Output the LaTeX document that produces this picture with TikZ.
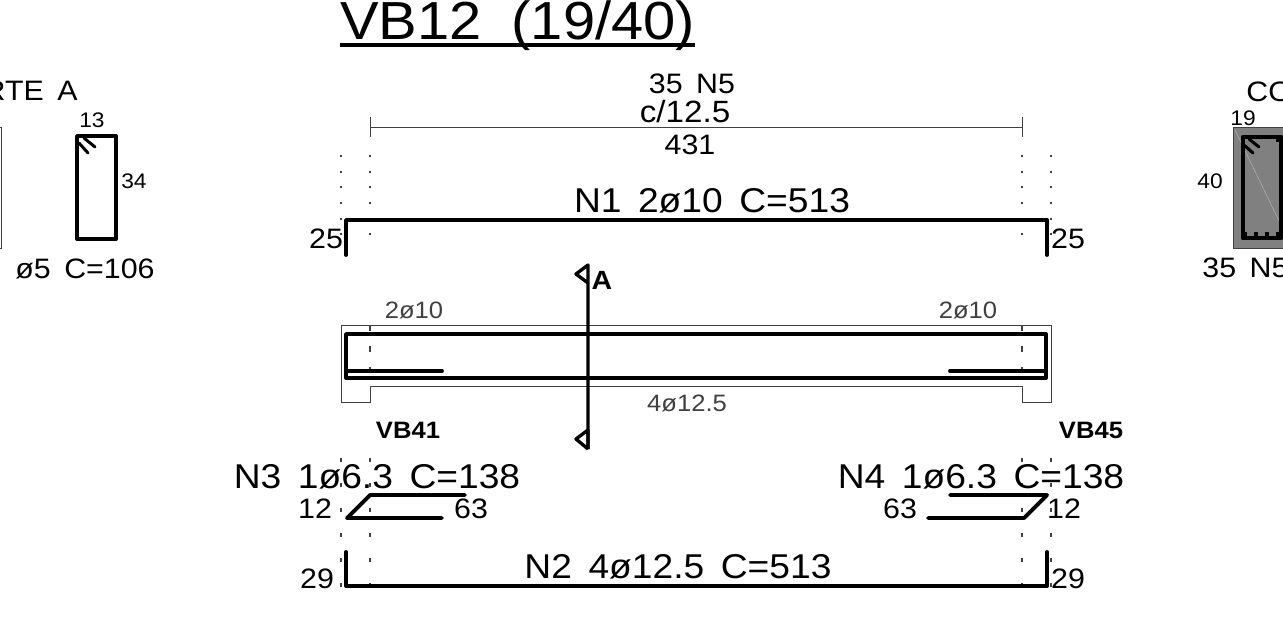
\documentclass[tikz,border=0pt]{standalone}
\usepackage{fontspec}
\setmainfont[FakeStretch=1.08,WordSpace=1.6]{Liberation Sans}
\usepackage{xcolor}
\definecolor{concgray}{HTML}{808080}
\definecolor{linegray}{HTML}{404040}
\newcommand{\lblsize}[1]{\fontsize{#1}{#1}\selectfont}

\begin{document}
\begin{tikzpicture}[
    x=0.02cm, y=-0.02cm,
    bar/.style={line width=2.2pt, line cap=round, line join=round},
    thinline/.style={line width=0.5pt, draw=linegray},
    axisdots/.style={line width=0.8pt, draw=linegray, dash pattern=on 1.2pt off 7.7pt},
    axisdash/.style={line width=0.8pt, draw=linegray, dash pattern=on 2.4pt off 11.8pt},
    lbl/.style={inner sep=0pt, font=\lblsize{19.6}},
    smalllbl/.style={inner sep=0pt, font=\lblsize{16}},
    greylbl/.style={inner sep=0pt, text=linegray, font=\lblsize{13.5}},
    boldlbl/.style={inner sep=0pt, font=\lblsize{13.5}\bfseries},
    tinylbl/.style={inner sep=0pt, font=\lblsize{12}}
]
    \useasboundingbox (0,0) rectangle (1283,633);
    \clip (0,0) rectangle (1283,633);

    % Title
    \node[inner sep=0pt, anchor=base, font=\lblsize{30.5}] (title) at (517.5,39) {VB12\hspace{0.08em} (19/40)};
    \draw[line width=1.9pt] (title.west |- 0,45) -- (title.east |- 0,45);

    % Axis dots
    \foreach \x in {341,370,1022,1051} {
        \draw[axisdots] (\x,155) -- (\x,236);
        \draw[axisdash] (\x,458) -- (\x,590);
    }
    \draw[axisdash, dash pattern=on 3.4pt off 8.6pt] (370,325) -- (370,386);
    \draw[axisdash, dash pattern=on 3.4pt off 8.6pt] (1022,325) -- (1022,386);

    % Stirrup spacing
    \draw[thinline] (370,117) -- (370,137);
    \draw[thinline] (1022,117) -- (1022,137);
    \draw[thinline] (370,127) -- (1022,127);
    \node[smalllbl] (nfive) at (692,84) {35 N5};
    \node[smalllbl, font=\lblsize{17.5}] (spacing) at (685,112) {c/12.5};
    \node[smalllbl] (span) at (690,145) {431};

    % Bar N1
    \draw[bar] (346,255) -- (346,220) -- (1047,220) -- (1047,255);
    \node[lbl] (none) at (712,201) {N1 2ø10 C=513};
    \node[smalllbl] (nonel) at (326,239) {25};
    \node[smalllbl] (noner) at (1068,239) {25};

    % Beam outline
    \draw[thinline] (341,325) -- (1051,325) -- (1051,402) -- (1022,402) -- (1022,386)
        -- (370,386) -- (370,402) -- (341,402) -- cycle;
    \draw[bar] (442,371) -- (346,371) -- (346,334) -- (1046,334) -- (1046,371) -- (950,371);
    \draw[bar] (346,371) -- (346,378) -- (1046,378) -- (1046,371);
    \node[greylbl] (topl) at (414,310) {2ø10};
    \node[greylbl] (topr) at (968,310) {2ø10};
    \node[greylbl] (botm) at (687,403) {4ø12.5};
    \node[boldlbl] (vbl) at (408,430) {VB41};
    \node[boldlbl] (vbr) at (1091,430) {VB45};

    % Section mark
    \draw[line width=1.9pt, line join=round] (588,449) -- (588,430) -- (576,439) -- (588,449);
    \draw[line width=1.9pt, line join=round] (588,449) -- (588,265) -- (576,274) -- (588,283);
    \node[boldlbl, font=\lblsize{15}\bfseries] (seca) at (602,280) {A};

    % Bars N3 and N4
    \draw[bar] (465,495) -- (370,495) -- (347,518) -- (442,518);
    \draw[bar] (950,495) -- (1047,495) -- (1024,518) -- (928,518);
    \node[lbl] (nthree) at (377,477) {N3 1ø6.3 C=138};
    \node[lbl] (nfour) at (981,477) {N4 1ø6.3 C=138};
    \node[smalllbl] (threel) at (315,509) {12};
    \node[smalllbl] (threer) at (471,509) {63};
    \node[smalllbl] (fourl) at (900,509) {63};
    \node[smalllbl] (fourr) at (1064,509) {12};

    % Bar N2
    \draw[bar] (346,552) -- (346,586) -- (1047,586) -- (1047,552);
    \node[lbl] (ntwo) at (678,567) {N2 4ø12.5 C=513};
    \node[smalllbl] (ntwol) at (317,579) {29};
    \node[smalllbl] (ntwor) at (1068,579) {29};

    % Section at left
    \node[smalllbl, anchor=east] (cutl) at (78,91) {RTE A};
    \draw[thinline] (-5,127) rectangle (1,248);
    \draw[bar, line width=2.2pt] (77,136) rectangle (116,239);
    \draw[bar, line width=1.7pt] (79,143) -- (88,153);
    \draw[bar, line width=1.7pt] (84,138) -- (95,147);
    \node[tinylbl] (stw) at (92,120) {13};
    \node[tinylbl] (sth) at (134,181) {34};
    \node[smalllbl] (stn) at (85,269) {ø5 C=106};

    % Section at right
    \node[smalllbl, anchor=west] (cutr) at (1246,92) {CO};
    \draw[draw=linegray, fill=concgray] (1233,127) rectangle (1295,248);
    \draw[line width=0.3pt, draw=gray!60] (1235,130) -- (1280,223);
    \draw[bar, line width=2.6pt] (1243,137) rectangle (1281,238);
    \draw[bar, line width=1.7pt] (1244,145) -- (1253,153);
    \draw[bar, line width=1.7pt] (1249,139) -- (1259,147);
    \foreach \x in {1245,1256,1267,1278} {
        \fill (\x-2,232) rectangle (\x+2,238);
    }
    \fill (1276,137) rectangle (1281,142);
    \node[tinylbl] (secw) at (1243,118) {19};
    \node[tinylbl] (sech) at (1210,181) {40};
    \node[smalllbl, anchor=west] (secn) at (1202,268) {35 N5};
\end{tikzpicture}
\end{document}
